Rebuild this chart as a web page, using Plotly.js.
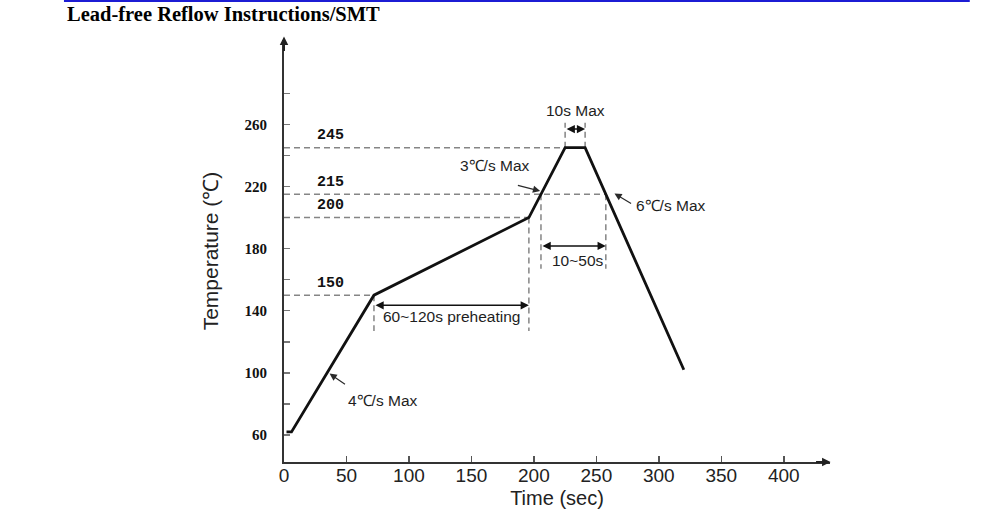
<!DOCTYPE html>
<html>
<head>
<meta charset="utf-8">
<script src="https://cdn.plot.ly/plotly-3.0.1.min.js"></script>
<style>
  html, body { margin: 0; padding: 0; background: #ffffff; }
  #chart { width: 1000px; height: 521px; }
</style>
</head>
<body>
<div id="chart"></div>
<script>
// Lead-free reflow profile: time (s) against temperature (℃)
const timeSec = [2, 6, 72, 196, 225, 241, 320];
const tempC   = [62, 62, 150, 200, 245, 245, 102];

// Reference temperature levels and their labels
const levelValues = [245, 215, 200, 150];
const levelLabels = ['245', '215', '200', '150'];
const liquidus = 215;
const preheatStart = 150;
const preheatEnd = 200;
const peakTemp = 245;

// Axis ticks
const xTickVals = [0, 50, 100, 150, 200, 250, 300, 350, 400];
const yTickVals = [60, 80, 100, 120, 140, 160, 180, 200, 220, 240, 260, 280];
const yTickText = ['60', '', '100', '', '140', '', '180', '', '220', '', '260', ''];

// Times where the profile passes through a given temperature
function crossings(level) {
  const out = [];
  for (let i = 0; i < timeSec.length - 1; i++) {
    const t0 = timeSec[i], t1 = timeSec[i + 1];
    const v0 = tempC[i], v1 = tempC[i + 1];
    if (v0 === level) { if (!out.includes(t0)) out.push(t0); }
    if (v1 === level) { if (!out.includes(t1)) out.push(t1); continue; }
    if ((v0 - level) * (v1 - level) < 0) {
      out.push(t0 + (level - v0) / (v1 - v0) * (t1 - t0));
    }
  }
  return out.sort((a, b) => a - b);
}

const liqTimes = crossings(liquidus);
const tLiqUp = liqTimes[0];
const tLiqDown = liqTimes[liqTimes.length - 1];
const tPreStart = crossings(preheatStart)[0];
const tPreEnd = crossings(preheatEnd)[0];
const peakTimes = crossings(peakTemp);
const tPeakStart = peakTimes[0];
const tPeakEnd = peakTimes[peakTimes.length - 1];

const guide = { color: '#858585', width: 1.5, dash: '6px,4px' };

const shapes = [];
// Horizontal level guides from the temperature axis to the profile
levelValues.forEach(v => {
  const end = v === liquidus ? tLiqDown : crossings(v)[0];
  shapes.push({ type: 'line', xref: 'x', yref: 'y', x0: 0, x1: end, y0: v, y1: v,
                line: guide, layer: 'below' });
});
// Vertical guides marking the timed zones
function vGuide(t, yA, yB) {
  shapes.push({ type: 'line', xref: 'x', yref: 'y', x0: t, x1: t, y0: yA, y1: yB,
                line: guide, layer: 'below' });
}
vGuide(tPreStart, preheatStart, 127);
vGuide(tPreEnd, preheatEnd, 127);
vGuide(tLiqUp, liquidus, 167);
vGuide(tLiqDown, liquidus, 167);
vGuide(tPeakStart, peakTemp, 261);
vGuide(tPeakEnd, peakTemp, 261);
// Blue rule above the heading
shapes.push({ type: 'line', xref: 'paper', yref: 'paper', x0: -0.403, x1: 1.256,
              y0: 1.093, y1: 1.093, line: { color: '#1c1cd4', width: 2.5 } });

const noteFont = { family: 'Liberation Sans, Arial, sans-serif', size: 15.5, color: '#1e1e1e' };
const arrowColor = '#2a2a2a';

function note(text, x, y, xanchor) {
  return { text, x, y, xref: 'x', yref: 'y', showarrow: false,
           xanchor: xanchor || 'center', yanchor: 'middle', font: noteFont };
}
function pointer(xHead, yHead, xTail, yTail) {
  return { text: '', x: xHead, y: yHead, ax: xTail, ay: yTail,
           xref: 'x', yref: 'y', axref: 'x', ayref: 'y',
           showarrow: true, arrowhead: 2, arrowsize: 1.2, arrowwidth: 1.2,
           arrowcolor: arrowColor, standoff: 0, startstandoff: 0 };
}
function span(t0, t1, y) {
  return { text: '', x: t1, y, ax: t0, ay: y,
           xref: 'x', yref: 'y', axref: 'x', ayref: 'y',
           showarrow: true, arrowside: 'end+start', arrowhead: 2, startarrowhead: 2,
           arrowsize: 1.1, startarrowsize: 1.1, arrowwidth: 1.5,
           arrowcolor: '#111', standoff: 0, startstandoff: 0 };
}

const annotations = [];
// Level labels above each guide
levelValues.forEach((v, i) => {
  annotations.push({ text: '<b>' + levelLabels[i] + '</b>', x: 37, y: v, xref: 'x', yref: 'y',
                     yshift: 12, showarrow: false, xanchor: 'center', yanchor: 'middle',
                     font: { family: 'Liberation Mono, Courier New, monospace', size: 15, color: '#111' } });
});
// Zone notes
annotations.push(note('10s Max', 233, 268.6));
annotations.push(span(tPeakStart, tPeakEnd, 257));
annotations.push(note('3℃/s Max', 169, 233.2));
annotations.push(pointer(205, 217, 186, 221));
annotations.push(note('6℃/s Max', 280.5, 208, 'left'));
annotations.push(pointer(264.5, 215.5, 279, 208.5));
annotations.push(note('10~50s', 235.5, 172.6));
annotations.push(span(tLiqUp, tLiqDown, 181.7));
annotations.push(note('60~120s preheating', 134, 136));
annotations.push(span(tPreStart, tPreEnd, 143.5));
annotations.push(note('4℃/s Max', 79, 82.5));
annotations.push(pointer(36.5, 99.5, 50, 92));
// Arrow tips on the axes
annotations.push({ text: '', xref: 'paper', yref: 'paper', x: 0, y: 1.008, ax: 0, ay: 16,
                   showarrow: true, arrowhead: 2, arrowsize: 0.85, arrowwidth: 2,
                   arrowcolor: '#222', standoff: 0 });
annotations.push({ text: '', xref: 'paper', yref: 'paper', x: 1.001, y: 0, ax: -16, ay: 0,
                   showarrow: true, arrowhead: 2, arrowsize: 0.85, arrowwidth: 2,
                   arrowcolor: '#222', standoff: 0 });

const profile = {
  x: timeSec, y: tempC, type: 'scatter', mode: 'lines',
  line: { color: '#111', width: 2.8 }, hoverinfo: 'skip', cliponaxis: false
};

const layout = {
  width: 1000, height: 521,
  margin: { l: 284, r: 170, t: 40, b: 59 },
  paper_bgcolor: '#ffffff', plot_bgcolor: '#ffffff',
  showlegend: false,
  title: {
    text: 'Lead-free Reflow Instructions/SMT',
    font: { family: 'Liberation Serif, Times New Roman, serif', size: 20.5, weight: 'bold', color: '#000' },
    x: 0.067, xref: 'container', xanchor: 'left',
    y: 1 - 14 / 521, yref: 'container', yanchor: 'middle'
  },
  xaxis: {
    range: [0, 437], showgrid: false, zeroline: false,
    showline: true, linecolor: '#333', linewidth: 2,
    ticks: 'inside', ticklen: 6, tickwidth: 1.5, tickcolor: '#555',
    tickmode: 'array', tickvals: xTickVals,
    ticklabelstandoff: -5,
    tickfont: { family: 'Liberation Sans, Arial, sans-serif', size: 19, color: '#222' },
    title: { text: 'Time (sec)', standoff: 6,
             font: { family: 'Liberation Sans, Arial, sans-serif', size: 20, color: '#222' } },
    fixedrange: true
  },
  yaxis: {
    range: [42.6, 314.3], showgrid: false, zeroline: false,
    showline: true, linecolor: '#333', linewidth: 2,
    ticks: 'inside', ticklen: 6, tickwidth: 1.5, tickcolor: '#777',
    tickmode: 'array', tickvals: yTickVals, ticktext: yTickText,
    ticklabelstandoff: 12,
    tickfont: { family: 'Liberation Serif, Times New Roman, serif', size: 15, weight: 'bold', color: '#111' },
    title: { text: 'Temperature (℃)', standoff: 20,
             font: { family: 'Liberation Sans, Arial, sans-serif', size: 21, color: '#222' } },
    fixedrange: true
  },
  shapes, annotations
};

Plotly.newPlot('chart', [profile], layout, { displayModeBar: false, staticPlot: true });
</script>
</body>
</html>
